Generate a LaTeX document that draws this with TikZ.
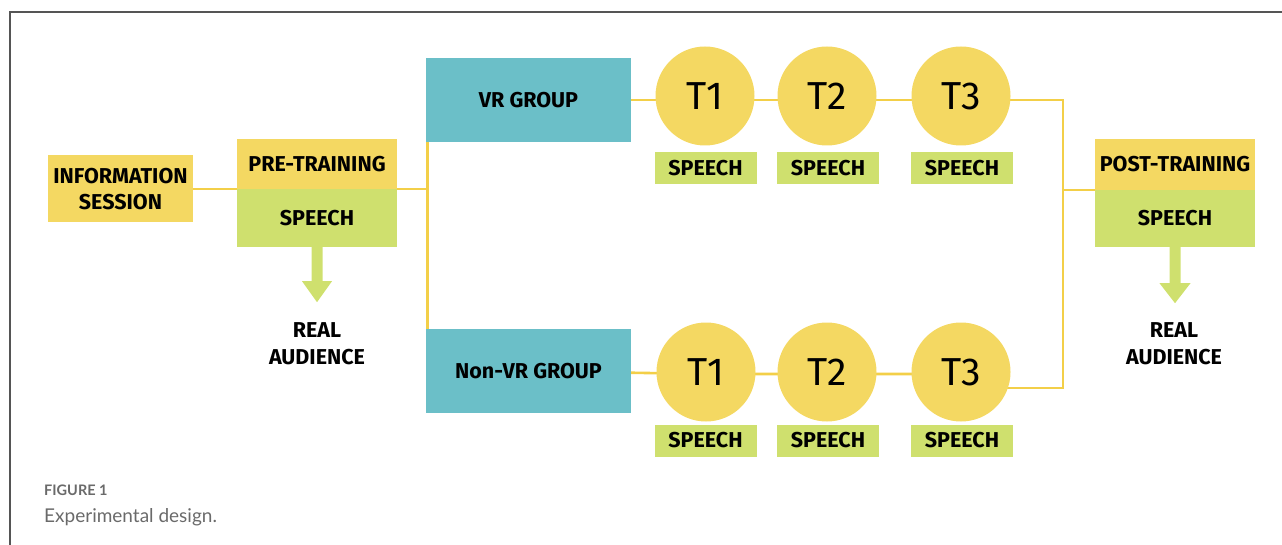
\documentclass[tikz,border=0pt]{standalone}
\usepackage{fontspec}
\usetikzlibrary{calc}
\newfontfamily\labfont{Fira Sans}
\newfontfamily\capfont{Lato}
\definecolor{boxyellow}{HTML}{F4D862}
\definecolor{boxgreen}{HTML}{CFE06E}
\definecolor{boxteal}{HTML}{6BBFC8}
\definecolor{lineyellow}{HTML}{F3CF48}
\definecolor{framegray}{HTML}{555555}
\definecolor{capgray}{HTML}{6A6A6A}
\pgfdeclarelayer{bg}
\pgfsetlayers{bg,main}
\tikzset{
  lab/.style={font=\labfont\bfseries\fontsize{21.5}{26.5}\selectfont, text=black, align=center, inner sep=0pt},
  ybox/.style={lab, fill=boxyellow, draw=none},
  gbox/.style={lab, fill=boxgreen, draw=none},
  tbox/.style={lab, fill=boxteal, draw=none, minimum width=205pt, minimum height=84pt},
  tcirc/.style={circle, fill=boxyellow, draw=none, minimum size=99pt, inner sep=0pt, font=\labfont\fontsize{39}{42}\selectfont},
  sbox/.style={gbox, minimum width=102pt, minimum height=32pt},
  conn/.style={draw=lineyellow, line width=2.6pt},
  blockarrow/.style={fill=boxgreen, draw=none},
  frame/.style={draw=framegray, line width=1.6pt}
}
\begin{document}
\begin{tikzpicture}[x=1pt,y=-1pt]
\useasboundingbox (0,0) rectangle (1282,545);
\draw[frame] (10,545) -- (10,12) -- (1282,12);

% left part
\node[ybox, minimum width=145pt, minimum height=67pt] (info) at (120.5,189) {INFORMATION\\SESSION};
\node[ybox, minimum width=160pt, minimum height=50pt] (pre) at (317,164) {PRE-TRAINING};
\node[gbox, minimum width=160pt, minimum height=58pt] (preS) at (317,218) {SPEECH};
\node[lab, font=\labfont\bfseries\fontsize{21.5}{27}\selectfont] (realL) at (317,344) {REAL\\AUDIENCE};

% groups
\node[tbox] (vr) at (528.5,100) {VR GROUP};
\node[tbox] (nvr) at (528.5,371) {Non-VR GROUP};

% top row
\node[tcirc] (t1a) at (705,96) {T1};
\node[tcirc] (t2a) at (827,96) {T2};
\node[tcirc] (t3a) at (961,96) {T3};
\node[sbox] (s1a) at (705.5,168) {SPEECH};
\node[sbox] (s2a) at (828,168) {SPEECH};
\node[sbox] (s3a) at (962,168) {SPEECH};

% bottom row
\node[tcirc] (t1b) at (706,372) {T1};
\node[tcirc] (t2b) at (827,372) {T2};
\node[tcirc] (t3b) at (961,372) {T3};
\node[sbox] (s1b) at (705.5,440.5) {SPEECH};
\node[sbox] (s2b) at (828,440.5) {SPEECH};
\node[sbox] (s3b) at (962,440.5) {SPEECH};

% right part
\node[ybox, minimum width=160pt, minimum height=51pt] (post) at (1175,164.5) {POST-TRAINING};
\node[gbox, minimum width=160pt, minimum height=57pt] (postS) at (1175,218.5) {SPEECH};
\node[lab, font=\labfont\bfseries\fontsize{21.5}{27}\selectfont] (realR) at (1174,344) {REAL\\AUDIENCE};

% junction coordinates
\coordinate (jl) at (428,189);
\coordinate (jr) at (1063,190);
\coordinate (jrt) at (1063,100);
\coordinate (jrb) at (1063,388);
\coordinate (rowa) at (0,100);
\coordinate (rowb) at (0,374);

% connectors (behind the boxes)
\begin{pgfonlayer}{bg}
\draw[conn] (info.center |- jl) -- (pre.center |- jl);
\draw[conn] (pre.center |- jl) -- (jl);
\draw[conn] (vr.west |- vr.center) ++(1.5,0) coordinate (vl) (vl) -- (vl |- nvr.center);
\draw[conn] (vr.center) -- (t1a.center |- rowa) -- (t2a.center |- rowa) -- (t3a.center |- rowa) -- (jrt) -- (jrb) -- (t3b.center |- jrb);
\draw[conn] (nvr.center) -- (t1b.center |- rowb) -- (t2b.center |- rowb) -- (t3b.center |- rowb);
\draw[conn] (jr) -- (post.center |- jr);
\end{pgfonlayer}

% block arrows
\fill[blockarrow] ($(preS.south)+(-5.5,0)$) -- ++(0,34) -- ++(-9.5,0) -- ($(preS.south)+(0,55)$) -- ++(15,-21) -- ++(-9.5,0) -- ($(preS.south)+(5.5,0)$) -- cycle;
\fill[blockarrow] ($(postS.south)+(-5.5,0)$) -- ++(0,36) -- ++(-10,0) -- ($(postS.south)+(0,56)$) -- ++(15.5,-20) -- ++(-10,0) -- ($(postS.south)+(5.5,0)$) -- cycle;

% caption
\node[anchor=base west, inner sep=0pt, text=capgray, font=\capfont\bfseries\fontsize{14.5}{16}\selectfont] (figlab) at (44,495) {FIGURE 1};
\node[anchor=base west, inner sep=0pt, text=capgray, font=\capfont\fontsize{19}{21}\selectfont] (figcap) at (44,522) {Experimental design.};
\end{tikzpicture}
\end{document}
